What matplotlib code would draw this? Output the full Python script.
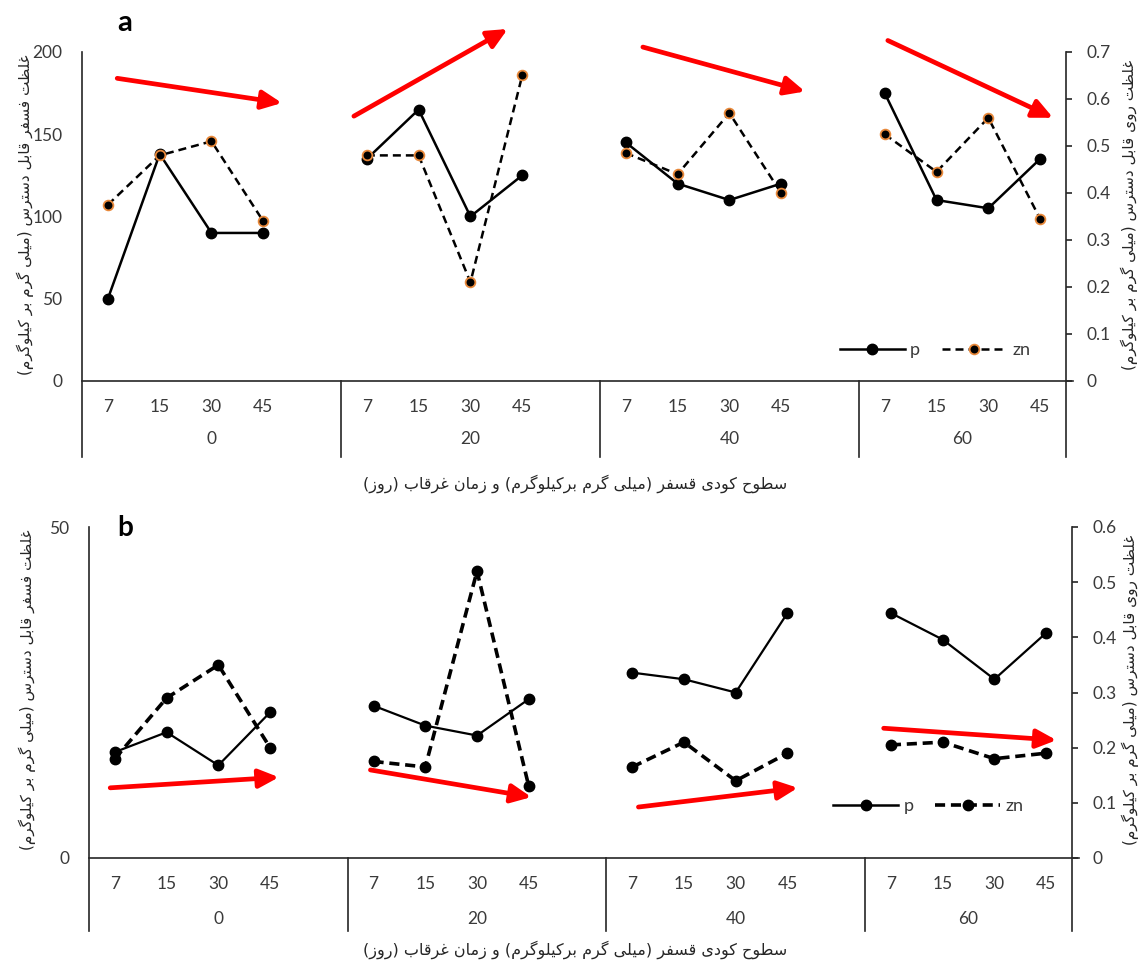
import matplotlib
matplotlib.use("Agg")
import matplotlib.pyplot as plt
from matplotlib.lines import Line2D
from matplotlib.transforms import blended_transform_factory

# categories
days = ["7", "15", "30", "45"]
levels = ["0", "20", "40", "60"]

# panel a values (4 days x 4 P levels)
p_a = [50, 138, 90, 90, 135, 165, 100, 125, 145, 120, 110, 120, 175, 110, 105, 135]
zn_a = [0.375, 0.48, 0.51, 0.34, 0.48, 0.48, 0.21, 0.65,
        0.485, 0.44, 0.57, 0.40, 0.525, 0.445, 0.56, 0.345]

# panel b values
p_b = [16, 19, 14, 22, 23, 20, 18.5, 24, 28, 27, 25, 37, 37, 33, 27, 34]
zn_b = [0.18, 0.29, 0.35, 0.20, 0.175, 0.165, 0.52, 0.13,
        0.165, 0.21, 0.14, 0.19, 0.205, 0.21, 0.18, 0.19]

# red trend arrows: (x0, y0, x1, y1) in category index / left-axis units
arrows_a = [(0.18, 184, 3.36, 169), (4.75, 161, 7.72, 214),
            (10.33, 203, 13.46, 176), (15.06, 207, 18.25, 160)]
arrows_b = [(-0.09, 10.6, 3.17, 12.2), (4.94, 13.3, 8.05, 9.2),
            (10.12, 7.7, 13.2, 10.6), (14.86, 19.6, 18.2, 17.8)]

ylab_p = "غلظت فسفر قابل دسترس (میلی گرم بر کیلوگرم)"
ylab_zn = "غلظت روی قابل دسترس (میلی گرم بر کیلوگرم)"
xlab = "سطوح کودی قسفر (میلی گرم برکیلوگرم) و زمان غرقاب (روز)"

# minimal arabic/persian shaping: (isolated, final, initial, medial)
FORMS = {
    "\u0627": ("\uFE8D", "\uFE8E", None, None),
    "\u0628": ("\uFE8F", "\uFE90", "\uFE91", "\uFE92"),
    "\u062A": ("\uFE95", "\uFE96", "\uFE97", "\uFE98"),
    "\u062D": ("\uFEA1", "\uFEA2", "\uFEA3", "\uFEA4"),
    "\u062F": ("\uFEA9", "\uFEAA", None, None),
    "\u0631": ("\uFEAD", "\uFEAE", None, None),
    "\u0632": ("\uFEAF", "\uFEB0", None, None),
    "\u0633": ("\uFEB1", "\uFEB2", "\uFEB3", "\uFEB4"),
    "\u0637": ("\uFEC1", "\uFEC2", "\uFEC3", "\uFEC4"),
    "\u0638": ("\uFEC5", "\uFEC6", "\uFEC7", "\uFEC8"),
    "\u063A": ("\uFECD", "\uFECE", "\uFECF", "\uFED0"),
    "\u0641": ("\uFED1", "\uFED2", "\uFED3", "\uFED4"),
    "\u0642": ("\uFED5", "\uFED6", "\uFED7", "\uFED8"),
    "\u0644": ("\uFEDD", "\uFEDE", "\uFEDF", "\uFEE0"),
    "\u0645": ("\uFEE1", "\uFEE2", "\uFEE3", "\uFEE4"),
    "\u0646": ("\uFEE5", "\uFEE6", "\uFEE7", "\uFEE8"),
    "\u0648": ("\uFEED", "\uFEEE", None, None),
    "\u06A9": ("\uFB8E", "\uFB8F", "\uFB90", "\uFB91"),
    "\u0643": ("\uFB8E", "\uFB8F", "\uFB90", "\uFB91"),
    "\u06AF": ("\uFB92", "\uFB93", "\uFB94", "\uFB95"),
    "\u06CC": ("\uFBFC", "\uFBFD", "\uFBFE", "\uFBFF"),
    "\u064A": ("\uFBFC", "\uFBFD", "\uFBFE", "\uFBFF"),
}


def shape(text):
    out = []
    for i, ch in enumerate(text):
        if ch not in FORMS:
            out.append(ch)
            continue
        iso, fin, ini, med = FORMS[ch]
        prev = text[i - 1] if i > 0 else ""
        nxt = text[i + 1] if i + 1 < len(text) else ""
        jp = prev in FORMS and FORMS[prev][2] is not None
        jn = ini is not None and nxt in FORMS
        if jp and jn:
            out.append(med)
        elif jp:
            out.append(fin)
        elif jn:
            out.append(ini)
        else:
            out.append(iso)
    s = "".join(out)[::-1]
    return s.translate(str.maketrans("()", ")("))


plt.rcParams["font.family"] = ["Lato", "DejaVu Sans"]
AR = ["DejaVu Sans"]
INK = "#262626"
TICK = "#3a3a3a"

W, H = 1140, 964
fig = plt.figure(figsize=(W / 100, H / 100), dpi=100)


def panel(rect, p, zn, lticks, rticks, arrows, sep, lab_off, zn_style, p_lw):
    ax = fig.add_axes(rect)
    ax2 = ax.twinx()
    x = [g * 5 + j for g in range(len(levels)) for j in range(len(days))]

    for g in range(len(levels)):
        sl = slice(g * 4, g * 4 + 4)
        ax.plot(x[sl], p[sl], color="black", lw=p_lw, marker="o", ms=7.5,
                mfc="black", mec="black", zorder=3)
        ax2.plot(x[sl], zn[sl], color="black", marker="o", zorder=3, **zn_style)

    ax.set_xlim(-0.5, 18.5)
    ax.set_ylim(lticks[0], lticks[-1])
    ax2.set_ylim(rticks[0], rticks[-1])
    for a in (ax, ax2):
        for s in a.spines.values():
            s.set_visible(False)

    ax.set_yticks(lticks, [f"{v:g}" for v in lticks])
    ax.tick_params(axis="y", length=0, pad=14, labelsize=12.5, labelcolor=TICK)
    ax2.set_yticks(rticks, [f"{v:g}" for v in rticks])
    ax2.tick_params(axis="y", direction="out", length=4, width=1.2, color=INK,
                    pad=11, labelsize=12.5, labelcolor=TICK)

    ax.set_xticks(x, days * len(levels))
    ax.tick_params(axis="x", length=0, pad=13, labelsize=12.5, labelcolor=TICK)

    tr = blended_transform_factory(ax.transData, ax.transAxes)
    bounds = [-0.5, 4.5, 9.5, 14.5, 18.5]
    for k, lev in enumerate(levels):
        cx = (bounds[k] + bounds[k + 1]) / 2
        ax.text(cx, -lab_off, lev, transform=tr, ha="center", va="center",
                fontsize=12.5, color=TICK)

    lk = dict(color=INK, lw=1.2, clip_on=False, zorder=1)
    ax.axvline(-0.5, ymin=-sep, ymax=1, **lk)
    ax.axvline(18.5, ymin=-sep, ymax=1, **lk)
    for b in bounds[1:-1]:
        ax.axvline(b, ymin=-sep, ymax=0, **lk)
    ax.axhline(0, xmin=0, xmax=1.007, **lk)

    for x0, y0, x1, y1 in arrows:
        ax.annotate("", xy=(x1, y1), xytext=(x0, y0), annotation_clip=False,
                    arrowprops=dict(arrowstyle="-|>,head_length=0.6,head_width=0.28",
                                    color="#ff0000", lw=3.4, mutation_scale=20,
                                    shrinkA=0, shrinkB=0))
    return ax, ax2


zn_a_style = dict(lw=1.8, ls=(0, (3.2, 2)), ms=7, mfc="black", mec="#e8883a", mew=1.3)
zn_b_style = dict(lw=2.6, ls=(0, (2.8, 1.6)), ms=7.5, mfc="black", mec="black")

ax_a, ax2_a = panel([82 / W, 1 - 381 / H, 984 / W, 329 / H], p_a, zn_a,
                    [0, 50, 100, 150, 200], [round(0.1 * i, 1) for i in range(8)],
                    arrows_a, 0.232, 0.176, zn_a_style, 1.8)
ax_b, ax2_b = panel([89 / W, 1 - 858 / H, 983 / W, 331 / H], p_b, zn_b,
                    [0, 50], [round(0.1 * i, 1) for i in range(7)],
                    arrows_b, 0.222, 0.184, zn_b_style, 1.6)

for a2, style, anchor in [(ax2_a, zn_a_style, (0.77, 0.094)),
                          (ax2_b, zn_b_style, (0.757, 0.157))]:
    h1 = Line2D([], [], color="black", lw=1.8, marker="o", ms=7.5)
    h2 = Line2D([], [], color="black", marker="o", **style)
    a2.legend([h1, h2], ["p", "zn"], loc="center left", bbox_to_anchor=anchor,
              frameon=False, ncol=2, handlelength=3.6, handletextpad=0.3,
              columnspacing=1.2, borderpad=0, borderaxespad=0, fontsize=13,
              labelcolor=TICK)

# panel letters
fig.text(125 / W, 1 - 23 / H, "a", fontsize=21, weight="bold", ha="center", va="center")
fig.text(125 / W, 1 - 528 / H, "b", fontsize=20, weight="bold", ha="center", va="center")

# axis titles
for yc, xl, xr, yx in [(215, 25, 1129, 484), (690, 27, 1130, 950)]:
    fig.text(xl / W, 1 - yc / H, shape(ylab_p), rotation=90, ha="center", va="center",
             fontsize=11, family=AR, color=INK)
    fig.text(xr / W, 1 - yc / H, shape(ylab_zn), rotation=90, ha="center", va="center",
             fontsize=11, family=AR, color=INK)
    fig.text(575 / W, 1 - yx / H, shape(xlab), ha="center", va="center",
             fontsize=11.5, family=AR, color=INK)

fig.savefig("out.png", dpi=100)
